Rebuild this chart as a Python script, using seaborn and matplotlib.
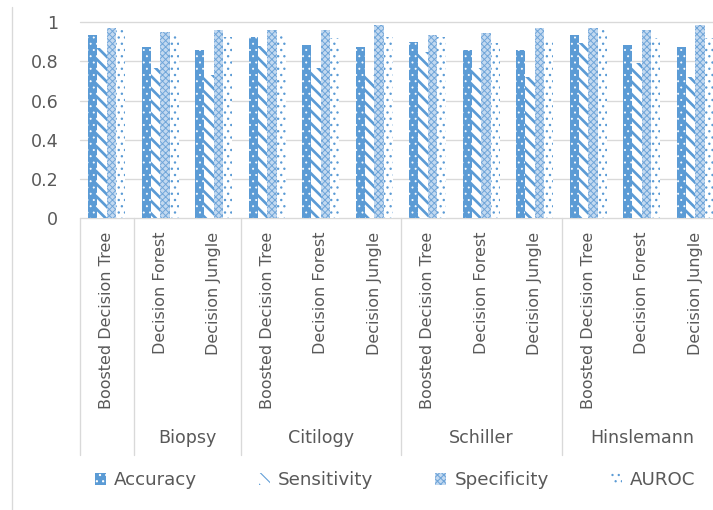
import matplotlib
matplotlib.use("Agg")
import matplotlib.pyplot as plt
from matplotlib.patches import Patch
from matplotlib.transforms import blended_transform_factory
import seaborn as sns
import pandas as pd

# ---- data -------------------------------------------------------------
methods = ["Boosted Decision Tree", "Decision Forest", "Decision Jungle"]
targets = ["Biopsy", "Citilogy", "Schiller", "Hinslemann"]
metrics = ["Accuracy", "Sensitivity", "Specificity", "AUROC"]

# one value per (target, method), in target-major order
accuracy    = [0.935, 0.875, 0.858, 0.926, 0.884, 0.875, 0.901, 0.858, 0.858, 0.935, 0.884, 0.875]
sensitivity = [0.870, 0.765, 0.730, 0.880, 0.765, 0.730, 0.850, 0.765, 0.722, 0.893, 0.790, 0.722]
specificity = [0.969, 0.952, 0.960, 0.960, 0.960, 0.986, 0.935, 0.944, 0.969, 0.969, 0.960, 0.986]
auroc       = [0.960, 0.935, 0.926, 0.944, 0.918, 0.926, 0.926, 0.893, 0.910, 0.960, 0.918, 0.918]

# second-level axis labels and how many categories each one spans
group_labels = ["", "Biopsy", "Citilogy", "Schiller", "Hinslemann"]
group_spans = [1, 2, 3, 3, 3]

y_ticks = [0, 0.2, 0.4, 0.6, 0.8, 1]

# ---- long-form table --------------------------------------------------
items = [f"{t} / {m}" for t in targets for m in methods]
tick_names = [m for t in targets for m in methods]
series = dict(zip(metrics, [accuracy, sensitivity, specificity, auroc]))
rows = []
for metric, vals in series.items():
    for item, v in zip(items, vals):
        rows.append({"item": item, "metric": metric, "value": v})
df = pd.DataFrame(rows)

# ---- style ------------------------------------------------------------
sns.set_style("white")
plt.rcParams["font.family"] = ["DejaVu Sans"]
plt.rcParams["hatch.linewidth"] = 1.0

DPI = 75
W, H = 713, 510
BLUE = "#5B9BD5"
GRID = "#D9D9D9"
TXT = "#595959"

fig = plt.figure(figsize=(W / DPI, H / DPI), dpi=DPI)
x0, x1 = 80, 722          # plot area, pixels
y_top, y_bot = 22.3, 218  # value 1 and value 0, pixels
ax = fig.add_axes([x0 / W, 1 - y_bot / H, (x1 - x0) / W, (y_bot - y_top) / H])

sns.barplot(data=df, x="item", y="value", hue="metric", order=items,
            hue_order=metrics, palette=[BLUE] * 4, width=0.7,
            errorbar=None, legend=False, ax=ax)

styles = {
    "Accuracy":    dict(face=BLUE,      edge="white",   hatch="..",   hlw=0.7),
    "Sensitivity": dict(face="white",   edge=BLUE,      hatch="\\\\", hlw=2.6),
    "Specificity": dict(face="#C3D9F0", edge="#6FA5D9", hatch="xxxx", hlw=0.9),
    "AUROC":       dict(face="white",   edge=BLUE,      hatch="..",   hlw=1.1),
}

def style_patch(p, s):
    p.set_facecolor(s["face"])
    p.set_edgecolor(s["edge"])
    p.set_linewidth(0)
    p.set_hatch(s["hatch"])
    if hasattr(p, "set_hatch_linewidth"):
        p.set_hatch_linewidth(s["hlw"])

for cont, metric in zip(ax.containers, metrics):
    for bar in cont:
        style_patch(bar, styles[metric])

ax.set_ylim(0, 1)
ax.set_xlim(-0.5, len(items) - 0.5)
for s in ax.spines.values():
    s.set_visible(False)
ax.grid(False)
for v in y_ticks:
    ax.axhline(v, color=GRID, lw=1.3, zorder=0, clip_on=False)

ax.set_yticks(y_ticks)
ax.set_yticklabels([f"{v:g}" for v in y_ticks])
ax.tick_params(axis="y", length=0, pad=21, labelsize=16.8, labelcolor=TXT)

ax.set_xticks(range(len(items)))
ax.set_xticklabels(tick_names, rotation=90, ha="center", va="top")
ax.tick_params(axis="x", length=0, pad=13.4, labelsize=15.4, labelcolor=TXT)
ax.set_xlabel("")
ax.set_ylabel("")

# ---- second-level category axis --------------------------------------
trans = blended_transform_factory(ax.transData, fig.transFigure)
line_top = 1 - y_bot / H
line_bot = 1 - 455 / H
start = -0.5
bounds = [start]
for lab, n in zip(group_labels, group_spans):
    end = start + n
    if lab:
        fig.text((start + end) / 2, 1 - 443 / H, lab, transform=trans,
                 ha="center", va="baseline", fontsize=16.8, color=TXT)
    bounds.append(end)
    start = end
for b in bounds:
    ax.plot([b, b], [line_top, line_bot], transform=trans, color=GRID,
            lw=1.3, clip_on=False)

# chart area border (left edge)
fig.add_artist(plt.Line2D([12 / W, 12 / W], [0, 1 - 7 / H],
                          transform=fig.transFigure, color=GRID, lw=1.3))

# ---- legend -----------------------------------------------------------
handles = []
for m in metrics:
    s = styles[m]
    h = Patch(facecolor=s["face"], edgecolor=s["edge"], hatch=s["hatch"],
              linewidth=0, label=m)
    if hasattr(h, "set_hatch_linewidth"):
        h.set_hatch_linewidth(s["hlw"])
    handles.append(h)
fig.legend(handles=handles, loc="center", bbox_to_anchor=(395 / W, 1 - 480 / H),
           ncol=4, frameon=False, fontsize=17.5, labelcolor=TXT,
           handlelength=0.6, handleheight=0.65, handletextpad=0.45,
           columnspacing=3.4, borderpad=0)

fig.savefig("out.png", dpi=DPI)
